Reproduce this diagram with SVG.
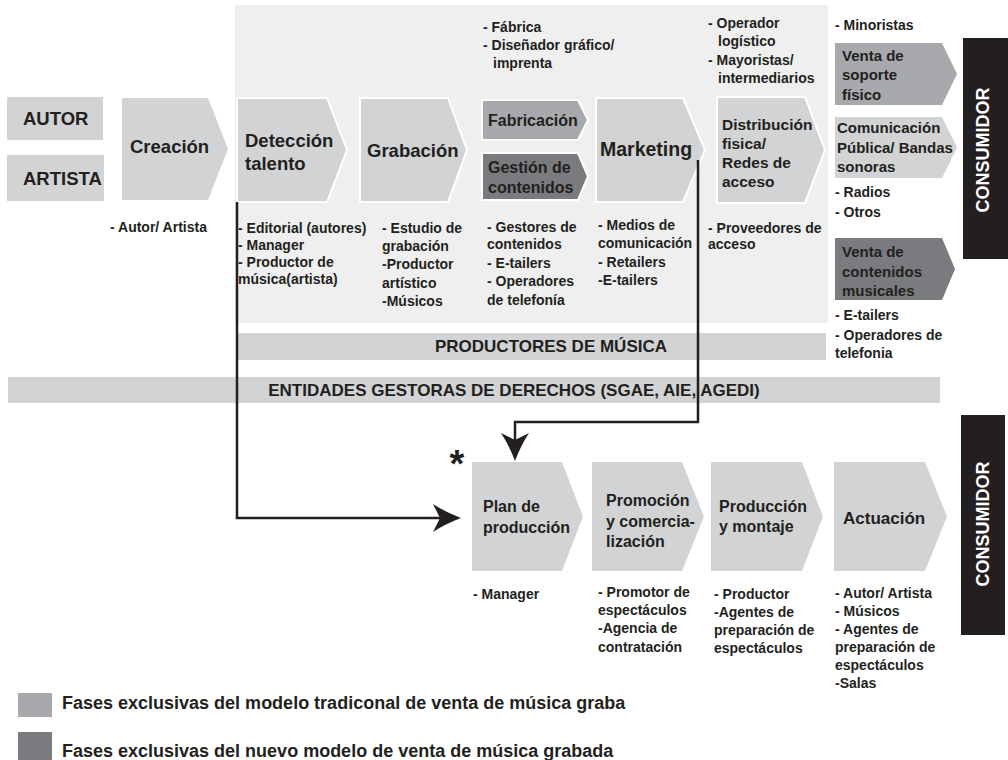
<svg xmlns="http://www.w3.org/2000/svg" width="1008" height="760" viewBox="0 0 1008 760">
<defs>
<style>
text{font-family:"Liberation Sans",Arial,sans-serif;font-weight:bold;fill:#231f20}
.h{font-size:18.5px}
.m{font-size:16px}
.s{font-size:15px}
.l{font-size:14px}
.lg{font-size:18px}
.band{font-size:17px}
.cons{font-size:18px;fill:#ffffff}
.light{fill:#d1d3d4}
.med{fill:#a7a9ac}
.dark{fill:#7a7b7e}
.wo{stroke:#ffffff;stroke-width:2}
.conn{fill:none;stroke:#231f20;stroke-width:2.5}
</style>
<marker id="arr" markerUnits="userSpaceOnUse" markerWidth="30" markerHeight="30" refX="7" refY="14" orient="auto">
<path d="M0,0 Q12,8 28,14 Q12,20 0,28 L7,14 Z" fill="#231f20"/>
</marker>
</defs>
<rect width="1008" height="760" fill="#ffffff"/>

<g id="panel"><rect x="235" y="5" width="593" height="318" fill="#efefef"/></g>

<g id="productores"><rect x="236" y="333" width="590" height="27" class="light"/>
<text class="band" x="551" y="352" text-anchor="middle">PRODUCTORES DE MÚSICA</text></g>

<g id="entidades"><rect x="8" y="377" width="932" height="26" class="light"/>
<text class="band" x="514" y="396" text-anchor="middle">ENTIDADES GESTORAS DE DERECHOS (SGAE, AIE, AGEDI)</text></g>

<g id="autor"><rect x="7" y="97" width="96" height="43" class="light"/>
<text class="h" x="23" y="125">AUTOR</text></g>
<g id="artista"><rect x="7" y="155" width="97" height="46" class="light"/>
<text class="h" x="23" y="185">ARTISTA</text></g>

<g id="creacion"><path class="light" d="M122,98 H208 L228,149 L208,200 H122 Z"/>
<text class="h" x="130" y="153">Creación</text>
<text class="l" x="110" y="232">- Autor/ Artista</text></g>

<g id="deteccion"><path class="light wo" d="M237,98 H327 L347,150 L327,202 H237 Z"/>
<text class="h" x="245" y="147">Detección</text>
<text class="h" x="245" y="170">talento</text>
<text class="l" x="238" y="233">- Editorial (autores)</text>
<text class="l" x="238" y="250">- Manager</text>
<text class="l" x="238" y="267">- Productor de</text>
<text class="l" x="238" y="284">música(artista)</text></g>

<g id="grabacion"><path class="light wo" d="M360,98 H448 L467,150 L448,202 H360 Z"/>
<text class="h" x="367" y="157">Grabación</text>
<text class="l" x="382" y="233">- Estudio de</text>
<text class="l" x="382" y="251">grabación</text>
<text class="l" x="382" y="269">-Productor</text>
<text class="l" x="382" y="288">artístico</text>
<text class="l" x="382" y="306">-Músicos</text></g>

<g id="fabricacion"><path class="med wo" d="M482,100 H578 L588,120 L578,140 H482 Z"/>
<text class="m" x="488" y="126">Fabricación</text>
<text class="l" x="483" y="32">- Fábrica</text>
<text class="l" x="483" y="50">- Diseñador gráfico/</text>
<text class="l" x="493" y="68">imprenta</text></g>

<g id="gestion"><path class="dark wo" d="M482,153 H578 L588,176.5 L578,200 H482 Z"/>
<text class="m" x="488" y="173">Gestión de</text>
<text class="m" x="488" y="193">contenidos</text>
<text class="l" x="487" y="232">- Gestores de</text>
<text class="l" x="487" y="249">contenidos</text>
<text class="l" x="487" y="268">- E-tailers</text>
<text class="l" x="487" y="286">- Operadores</text>
<text class="l" x="487" y="305">de telefonía</text></g>

<g id="marketing"><path class="light wo" d="M596,98 H683 L705,150 L683,202 H596 Z"/>
<text x="600" y="156" style="font-size:19.5px">Marketing</text>
<text class="l" x="598" y="230">- Medios de</text>
<text class="l" x="598" y="248">comunicación</text>
<text class="l" x="598" y="267">- Retailers</text>
<text class="l" x="598" y="285">-E-tailers</text></g>

<g id="distribucion"><path class="light wo" d="M717,97 H805 L825,150 L805,203 H717 Z"/>
<text x="722" y="130" style="font-size:15.5px">Distribución</text>
<text x="722" y="149" style="font-size:15.5px">fisica/</text>
<text x="722" y="168" style="font-size:15.5px">Redes de</text>
<text x="722" y="187" style="font-size:15.5px">acceso</text>
<text class="l" x="708" y="28">- Operador</text>
<text class="l" x="718" y="46">logístico</text>
<text class="l" x="708" y="65">- Mayoristas/</text>
<text class="l" x="718" y="83">intermediarios</text>
<text class="l" x="708" y="233">- Proveedores de</text>
<text class="l" x="708" y="249">acceso</text></g>

<g id="venta-soporte"><path class="med" d="M835,43 H942 L957,74 L942,105 H835 Z"/>
<text class="s" x="842" y="61">Venta de</text>
<text class="s" x="842" y="80">soporte</text>
<text class="s" x="842" y="100">físico</text>
<text class="l" x="835" y="30">- Minoristas</text></g>

<g id="comunicacion"><path class="light" d="M835,117 H942 L957,147.5 L942,178 H835 Z"/>
<text class="s" x="837" y="133">Comunicación</text>
<text class="s" x="837" y="153">Pública/ Bandas</text>
<text class="s" x="837" y="172">sonoras</text>
<text class="l" x="835" y="197">- Radios</text>
<text class="l" x="835" y="217">- Otros</text></g>

<g id="venta-contenidos"><path class="dark" d="M835,238 H942 L955,269 L942,300 H835 Z"/>
<text class="s" x="842" y="257">Venta de</text>
<text class="s" x="842" y="277">contenidos</text>
<text class="s" x="842" y="296">musicales</text>
<text class="l" x="835" y="320">- E-tailers</text>
<text class="l" x="835" y="340">- Operadores de</text>
<text class="l" x="835" y="358">telefonia</text></g>

<g id="consumidor-1"><rect x="963" y="38" width="45" height="221" fill="#231f20"/>
<text class="cons" transform="translate(989,150) rotate(-90)" text-anchor="middle">CONSUMIDOR</text></g>

<g id="consumidor-2"><rect x="961" y="415" width="44" height="220" fill="#231f20"/>
<text class="cons" transform="translate(989,524) rotate(-90)" text-anchor="middle">CONSUMIDOR</text></g>

<g id="plan"><path class="light" d="M472,462 H562 L583,516.5 L562,571 H472 Z"/>
<text class="m" x="483" y="512">Plan de</text>
<text class="m" x="483" y="533">producción</text>
<text class="l" x="473" y="599">- Manager</text>
<text x="457" y="477" text-anchor="middle" style="font-size:38px">*</text></g>

<g id="promocion"><path class="light" d="M592,462 H682 L704,516.5 L682,571 H592 Z"/>
<text class="m" x="606" y="506">Promoción</text>
<text class="m" x="606" y="527">y comercia-</text>
<text class="m" x="606" y="547">lización</text>
<text class="l" x="598" y="597">- Promotor de</text>
<text class="l" x="598" y="615">espectáculos</text>
<text class="l" x="598" y="633">-Agencia de</text>
<text class="l" x="598" y="652">contratación</text></g>

<g id="produccion"><path class="light" d="M711,462 H802 L823,516.5 L802,571 H711 Z"/>
<text class="m" x="719" y="512">Producción</text>
<text class="m" x="719" y="532">y montaje</text>
<text class="l" x="714" y="599">- Productor</text>
<text class="l" x="714" y="617">-Agentes de</text>
<text class="l" x="714" y="635">preparación de</text>
<text class="l" x="714" y="653">espectáculos</text></g>

<g id="actuacion"><path class="light" d="M834,462 H925 L947,516.5 L925,571 H834 Z"/>
<text x="843" y="524" style="font-size:17px">Actuación</text>
<text class="l" x="835" y="598">- Autor/ Artista</text>
<text class="l" x="835" y="616">- Músicos</text>
<text class="l" x="835" y="634">- Agentes de</text>
<text class="l" x="835" y="652">preparación de</text>
<text class="l" x="835" y="670">espectáculos</text>
<text class="l" x="835" y="688">-Salas</text></g>

<g id="connectors">
<path class="conn" d="M237,202 V518 H440" marker-end="url(#arr)"/>
<path class="conn" d="M698,160 V422 H515 V440" marker-end="url(#arr)"/>
</g>

<g id="legend">
<rect x="18" y="693" width="34" height="24" class="med"/>
<text class="lg" x="62" y="709">Fases exclusivas del modelo tradiconal de venta de música graba</text>
<rect x="18" y="732" width="34" height="28" class="dark"/>
<text class="lg" x="62" y="757">Fases exclusivas del nuevo modelo de venta de música grabada</text>
</g>
</svg>
